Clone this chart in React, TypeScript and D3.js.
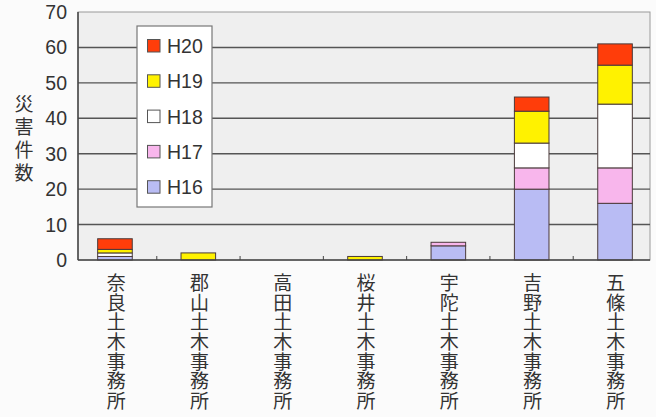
import React from "react";
import * as d3 from "d3";

const categories = ["奈良土木事務所", "郡山土木事務所", "高田土木事務所", "桜井土木事務所", "宇陀土木事務所", "吉野土木事務所", "五條土木事務所"];
const seriesNames = ["H16", "H17", "H18", "H19", "H20"];
const H16 = [1, 0, 0, 0, 4, 20, 16];
const H17 = [0, 0, 0, 0, 1, 6, 10];
const H18 = [1, 0, 0, 0, 0, 7, 18];
const H19 = [1, 2, 0, 1, 0, 9, 11];
const H20 = [3, 0, 0, 0, 0, 4, 6];
const yTicks = [0, 10, 20, 30, 40, 50, 60, 70];
const yTitle = "災害件数";

const colors: Record<string, string> = {
  H16: "#b9bcf4",
  H17: "#f8b6ec",
  H18: "#ffffff",
  H19: "#fff200",
  H20: "#ff3d0a",
};

export default function App() {
  const W = 656, H = 417;
  const frameLeft = 78, frameRight = 650;
  const y = d3.scaleLinear().domain([0, 70]).range([260, 12]);
  const x = d3.scaleBand<string>().domain(categories).range([73.5, 656.5]).paddingInner(0.585).paddingOuter(0.29);
  const xs = d3.scaleBand<string>().domain(categories).range([73.5, 656.5]);

  const rows = categories.map((c, i) => ({ cat: c, H16: H16[i], H17: H17[i], H18: H18[i], H19: H19[i], H20: H20[i] }));
  const stacked = d3.stack<any>().keys(seriesNames)(rows);

  const legendOrder = [...seriesNames].reverse();
  const font = "'Liberation Sans', Arial, sans-serif";
  const cjk = "'Noto Sans CJK JP', sans-serif";

  return (
    <svg width={W} height={H} style={{ position: "absolute", left: 0, top: 0, background: "#fbfbfb" }}>
      <rect x={frameLeft} y={y(70)} width={frameRight - frameLeft} height={y(0) - y(70)} fill="#efefef" stroke="#9a9a9a" strokeWidth={1} />
      {yTicks.filter(t => t > 0 && t < 70).map(t => (
        <line key={t} x1={frameLeft} x2={frameRight} y1={y(t)} y2={y(t)} stroke="#555" strokeWidth={1.4} />
      ))}
      {yTicks.map(t => (
        <text key={"l" + t} x={67} y={y(t)} dy="0.36em" textAnchor="end" fontFamily={font} fontSize={19.5} fill="#333">{t}</text>
      ))}
      {stacked.map(layer => layer.map((d, i) => {
        const v = d[1] - d[0];
        if (v <= 0) return null;
        return (
          <rect key={layer.key + i} x={x(categories[i])!} width={x.bandwidth()} y={y(d[1])} height={y(d[0]) - y(d[1])}
            fill={colors[layer.key]} stroke="#4a3a3a" strokeWidth={1} />
        );
      }))}
      <line x1={frameLeft} x2={frameLeft} y1={y(70)} y2={y(0)} stroke="#444" strokeWidth={1.5} />
      <line x1={frameLeft} x2={frameRight} y1={y(0)} y2={y(0)} stroke="#444" strokeWidth={1.5} />
      {categories.slice(1).map(c => (
        <line key={"t" + c} x1={xs(c)!} x2={xs(c)!} y1={y(0)} y2={y(0) - 4} stroke="#444" strokeWidth={1} />
      ))}
      {categories.map(c => (
        <text key={"c" + c} x={xs(c)! + xs.bandwidth() / 2 + 1} y={273.5} fontFamily={cjk} fontSize={19} fill="#333"
          style={{ writingMode: "vertical-rl", letterSpacing: "0.6px" }}>
          {c}
        </text>
      ))}
      <text x={24} y={94.5} fontFamily={cjk} fontSize={19} fill="#333"
        style={{ writingMode: "vertical-rl", letterSpacing: "4px" }}>
        {yTitle}
      </text>
      <rect x={137} y={26} width={75} height={181} fill="#ffffff" stroke="#777" strokeWidth={1.2} />
      {legendOrder.map((s, k) => (
        <g key={s}>
          <rect x={147.5} y={39.5 + k * 35.3} width={12.5} height={12.5} fill={colors[s]} stroke="#555" strokeWidth={1} />
          <text x={167} y={46 + k * 35.3} dy="0.36em" fontFamily={font} fontSize={19.5} fill="#333">{s}</text>
        </g>
      ))}
    </svg>
  );
}
